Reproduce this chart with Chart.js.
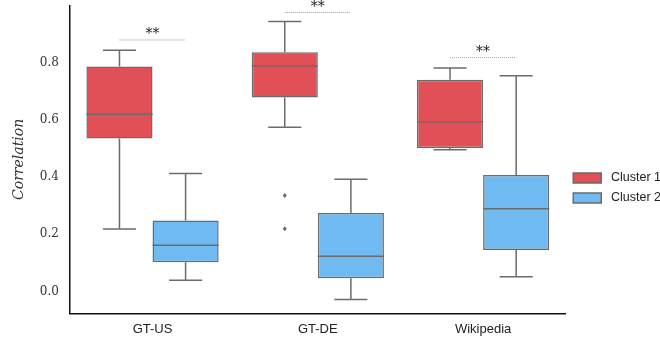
<!DOCTYPE html>
<html>
<head>
<meta charset="utf-8">
<script src="https://cdn.jsdelivr.net/npm/chart.js@4"></script>
<style>
  html, body { margin: 0; padding: 0; background: #fff; }
  canvas { display: block; }
</style>
</head>
<body>
<canvas id="chart" width="660" height="342"></canvas>
<script>
// categories and series (box stats)
const categories = ['GT-US', 'GT-DE', 'Wikipedia'];
const seriesNames = ['Cluster 1', 'Cluster 2'];
const seriesColors = ['#e05056', '#6fbaf1'];

// [whisker low, q1, median, q3, whisker high] per category
const cluster1Stats = [
    [0.218, 0.535, 0.619, 0.786, 0.843],
    [0.574, 0.678, 0.789, 0.836, 0.944],
    [0.495, 0.501, 0.593, 0.740, 0.781]
];
const cluster2Stats = [
    [0.039, 0.102, 0.161, 0.248, 0.412],
    [-0.028, 0.046, 0.123, 0.274, 0.392],
    [0.051, 0.145, 0.289, 0.407, 0.754]
];
const cluster1Outliers = [[], [0.335, 0.219], []];
const cluster2Outliers = [[], [], []];

// significance brackets per category
const sigLevels = [0.881, 0.977, 0.819];
const sigLabels = ['**', '**', '**'];

const yTicks = [0.0, 0.2, 0.4, 0.6, 0.8];

const allStats = [cluster1Stats, cluster2Stats];
const allOutliers = [cluster1Outliers, cluster2Outliers];
const edgeColor = '#6b6b6b';

// whiskers, medians, outliers and significance marks
const boxExtras = {
    id: 'boxExtras',
    afterDatasetsDraw(chart) {
        const ctx = chart.ctx;
        const y = chart.scales.y;
        ctx.save();
        allStats.forEach((stats, d) => {
            const meta = chart.getDatasetMeta(d);
            meta.data.forEach((bar, i) => {
                const [lo, q1, med, q3, hi] = stats[i];
                const x = bar.x, half = bar.width / 2;
                ctx.strokeStyle = edgeColor;
                ctx.lineWidth = 1.5;
                ctx.beginPath();
                // median
                ctx.moveTo(x - half, y.getPixelForValue(med));
                ctx.lineTo(x + half, y.getPixelForValue(med));
                // whiskers
                ctx.moveTo(x, y.getPixelForValue(q3));
                ctx.lineTo(x, y.getPixelForValue(hi));
                ctx.moveTo(x, y.getPixelForValue(q1));
                ctx.lineTo(x, y.getPixelForValue(lo));
                // caps
                ctx.moveTo(x - half / 2, y.getPixelForValue(hi));
                ctx.lineTo(x + half / 2, y.getPixelForValue(hi));
                ctx.moveTo(x - half / 2, y.getPixelForValue(lo));
                ctx.lineTo(x + half / 2, y.getPixelForValue(lo));
                ctx.stroke();
                // outliers as small diamonds
                ctx.fillStyle = edgeColor;
                allOutliers[d][i].forEach(v => {
                    const py = y.getPixelForValue(v);
                    ctx.beginPath();
                    ctx.moveTo(x, py - 2.5);
                    ctx.lineTo(x + 2, py);
                    ctx.lineTo(x, py + 2.5);
                    ctx.lineTo(x - 2, py);
                    ctx.closePath();
                    ctx.fill();
                });
            });
        });
        // significance lines between the two boxes of a category
        const m0 = chart.getDatasetMeta(0), m1 = chart.getDatasetMeta(1);
        sigLevels.forEach((lvl, i) => {
            const x0 = m0.data[i].x, x1 = m1.data[i].x;
            const py = y.getPixelForValue(lvl);
            ctx.strokeStyle = '#9a9a9a';
            ctx.lineWidth = 1;
            ctx.setLineDash([1, 1]);
            ctx.beginPath();
            ctx.moveTo(x0, py + 0.5);
            ctx.lineTo(x1, py + 0.5);
            ctx.stroke();
            ctx.setLineDash([]);
            ctx.fillStyle = '#222';
            ctx.font = '14px "DejaVu Serif"';
            ctx.textAlign = 'center';
            ctx.textBaseline = 'alphabetic';
            ctx.fillText(sigLabels[i], (x0 + x1) / 2, py - 1);
        });
        ctx.restore();
    }
};

new Chart(document.getElementById('chart').getContext('2d'), {
    type: 'bar',
    data: {
        labels: categories,
        datasets: allStats.map((stats, d) => ({
            label: seriesNames[d],
            data: stats.map(s => [s[1], s[3]]),
            backgroundColor: seriesColors[d],
            borderColor: edgeColor,
            borderWidth: 1.5,
            borderSkipped: false,
            categoryPercentage: 0.8,
            barPercentage: 1.0
        }))
    },
    options: {
        responsive: false,
        animation: false,
        layout: { padding: { top: 0, right: -11, bottom: 5, left: 7 } },
        plugins: {
            tooltip: { enabled: false },
            legend: {
                position: 'right',
                // empty title only nudges the items down
                title: { display: true, text: ' ', font: { size: 10 }, padding: { top: 13.5, bottom: 13.5 } },
                labels: {
                    boxWidth: 28,
                    boxHeight: 10,
                    padding: 7.5,
                    color: '#222',
                    font: { family: 'Liberation Sans', size: 12.5 },
                    generateLabels: chart => Chart.defaults.plugins.legend.labels.generateLabels(chart)
                        .map(item => Object.assign(item, { text: ' ' + item.text }))
                }
            }
        },
        scales: {
            x: {
                grid: { display: false },
                border: { display: true, color: '#111', width: 1.5 },
                ticks: { color: '#222', padding: 0, font: { family: 'Liberation Sans', size: 13 } }
            },
            y: {
                min: -0.077,
                max: 1.0,
                grid: { display: false },
                border: { display: true, color: '#111', width: 1.5 },
                afterBuildTicks: axis => { axis.ticks = yTicks.map(v => ({ value: v })); },
                ticks: {
                    color: '#333',
                    padding: 3,
                    font: { family: 'DejaVu Serif', size: 12, lineHeight: 0.4 },
                    callback: v => Number(v).toFixed(1)
                },
                title: {
                    display: true,
                    text: 'Correlation',
                    color: '#333',
                    padding: { top: 4, bottom: 9 },
                    font: { family: 'DejaVu Serif', size: 14, style: 'italic' }
                }
            }
        }
    },
    plugins: [boxExtras]
});
</script>
</body>
</html>
